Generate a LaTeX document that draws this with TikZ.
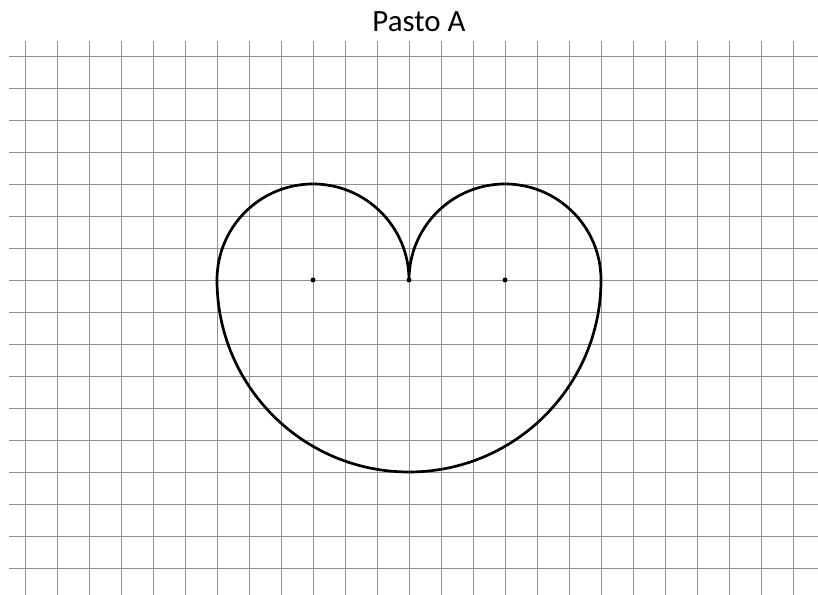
\documentclass[tikz,border=0pt]{standalone}
\usepackage{fontspec}
\setmainfont{Carlito}
\definecolor{gridgray}{RGB}{145,145,145}
\begin{document}
\begin{tikzpicture}[x=0.03125cm,y=0.03125cm,
  gridline/.style={draw=gridgray,line width=0.85pt},
  curve/.style={draw=black,line width=2.4pt},
  dotmark/.style={fill=black}]
\useasboundingbox (0,0) rectangle (818,595);
% vertical grid lines
\foreach \k in {0,...,24}{
  \draw[gridline] (25+32*\k,0) -- (25+32*\k,554);
}
% horizontal grid lines
\foreach \j in {0,...,16}{
  \draw[gridline] (9,539-32*\j) -- (818,539-32*\j);
}
% title
\node[anchor=base,inner sep=0pt,font=\fontsize{27.5pt}{31pt}\selectfont] (title) at (419,563) {Pasto A};
% centers
\coordinate (cl) at (313,315);
\coordinate (cc) at (409,315);
\coordinate (cr) at (505,315);
% heart
\draw[curve] (217,315) arc[start angle=180,end angle=0,radius=96]
  arc[start angle=180,end angle=0,radius=96]
  arc[start angle=0,end angle=-180,radius=192] -- cycle;
\fill[dotmark] (cl) circle (2.5);
\fill[dotmark] (cc) circle (2.5);
\fill[dotmark] (cr) circle (2.5);
\end{tikzpicture}
\end{document}
